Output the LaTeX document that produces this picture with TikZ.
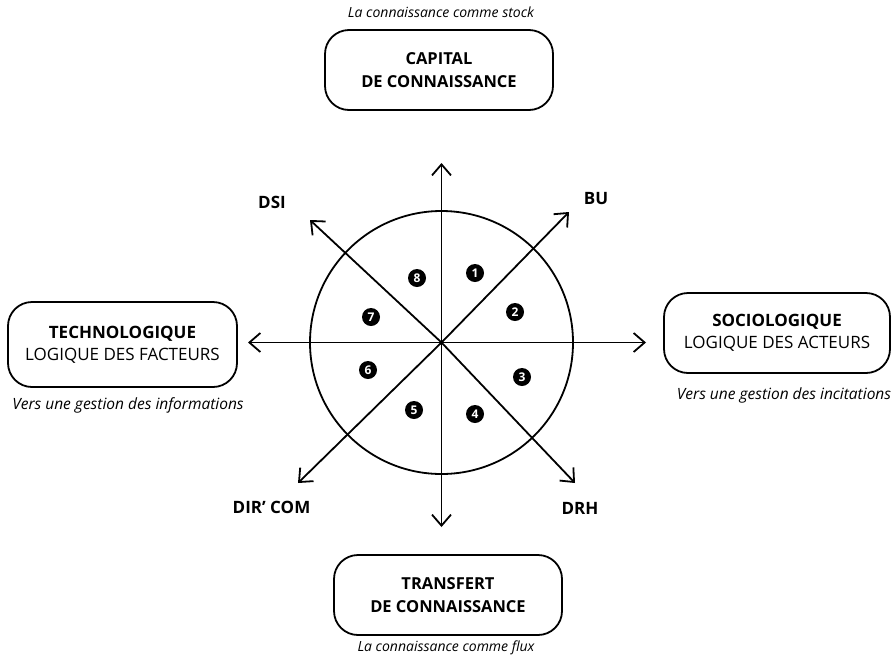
\documentclass[tikz,border=0pt]{standalone}
\usepackage{fontspec}
\setmainfont{Open Sans}
\usetikzlibrary{arrows.meta}
\begin{document}
\begin{tikzpicture}[x=1pt,y=-1pt,
  line width=1.8pt,
  arr/.style={-{Straight Barb[length=11pt,width=19pt,line width=1.8pt]}},
  bigbox/.style={draw,line width=1.8pt,rounded corners=24pt,minimum width=228pt,minimum height=80pt,align=center,font=\fontsize{16.5}{23}\selectfont,inner sep=0pt},
  note/.style={font=\itshape\fontsize{14}{16}\selectfont,inner sep=0pt},
  sidenote/.style={font=\itshape\fontsize{15.5}{18}\selectfont,inner sep=0pt},
  axlab/.style={font=\bfseries\fontsize{17}{19}\selectfont,inner sep=0pt},
  num/.style={circle,fill=black,minimum size=18pt,inner sep=0pt,text=white,font=\bfseries\fontsize{12}{12}\selectfont}]
\useasboundingbox (0,0) rectangle (896,659);
\coordinate (c) at (441.5,342.5);
\draw (c) circle (131.5);
% axes
\coordinate (top) at (441.5,163);
\coordinate (bot) at (441.5,527);
\coordinate (lft) at (248,342.5);
\coordinate (rgt) at (646,342.5);
\coordinate (bu) at (569,212);
\coordinate (dsi) at (310,220);
\coordinate (drh) at (575,483);
\coordinate (dc) at (298,483);
\draw[arr] (c) -- (top);
\draw[arr] (c) -- (bot);
\draw[arr] (c) -- (lft);
\draw[arr] (c) -- (rgt);
\draw[arr] (c) -- (bu);
\draw[arr] (c) -- (dsi);
\draw[arr] (c) -- (drh);
\draw[arr] (c) -- (dc);
% boxes
\node[bigbox] (cap) at (439,70) {\bfseries CAPITAL\\\bfseries DE CONNAISSANCE};
\node[note] (capn) at (441,12) {La connaissance comme stock};
\node[bigbox] (tra) at (448,595) {\bfseries TRANSFERT\\\bfseries DE CONNAISSANCE};
\node[note] (tran) at (446,648) {La connaissance comme flux};
\node[bigbox,minimum width=229pt,minimum height=85pt,font=\fontsize{17}{22}\selectfont] (tech) at (122.5,344.5) {\bfseries TECHNOLOGIQUE\\LOGIQUE DES FACTEURS};
\node[sidenote] (techn) at (128,405) {Vers une gestion des informations};
\node[bigbox,minimum width=226pt,font=\fontsize{17}{22}\selectfont] (soc) at (777,333) {\bfseries SOCIOLOGIQUE\\LOGIQUE DES ACTEURS};
\node[sidenote] (socn) at (784,395) {Vers une gestion des incitations};
% axis labels
\node[axlab] (ldsi) at (272,202) {DSI};
\node[axlab] (lbu) at (596,199) {BU};
\node[axlab] (ldrh) at (580,508) {DRH};
\node[axlab] (ldc) at (271.5,507) {DIR' COM};
% numbers
\node[num] (n1) at (475,273) {1};
\node[num] (n2) at (515,312) {2};
\node[num] (n3) at (522,377) {3};
\node[num] (n4) at (475,414) {4};
\node[num] (n5) at (414,410) {5};
\node[num] (n6) at (368,370) {6};
\node[num] (n7) at (371,317) {7};
\node[num] (n8) at (417,278) {8};
\end{tikzpicture}
\end{document}
